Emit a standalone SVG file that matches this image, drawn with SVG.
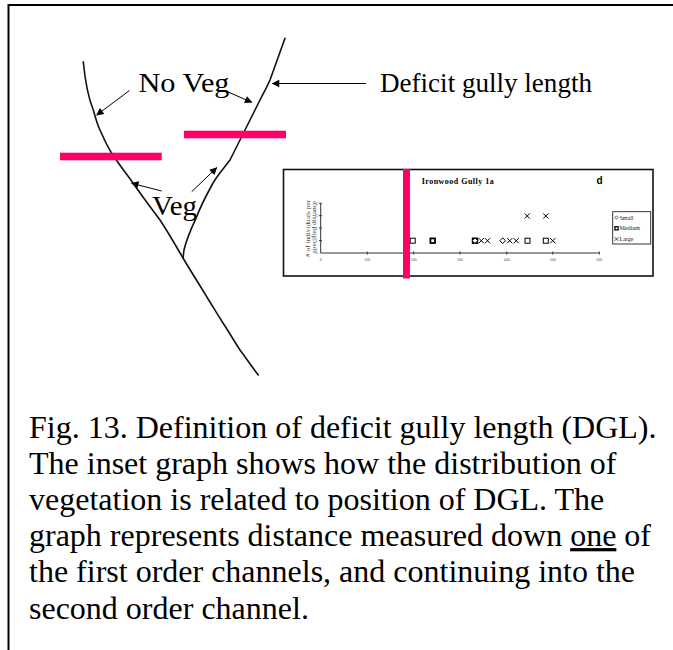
<svg xmlns="http://www.w3.org/2000/svg" width="673" height="650" viewBox="0 0 673 650">
  <style>
    .serif { font-family: "Liberation Serif", "Times New Roman", serif; fill: #000; }
    .lbl { font-size: 27px; }
    .cap { font-size: 32px; }
    .chan { fill: none; stroke: #111; stroke-width: 1.6; stroke-linejoin: round; stroke-linecap: round; }
    .arr { fill: none; stroke: #000; stroke-width: 1; }
    .pink { fill: #ff0066; }
    .mk { fill: #fff; stroke: #000; stroke-width: 1; }
    .tick { font-family: "Liberation Serif", serif; font-size: 4px; fill: #555; }
  </style>
  <defs>
    <marker id="ah" viewBox="0 0 10 10" refX="9" refY="5" markerWidth="10" markerHeight="7.5" markerUnits="userSpaceOnUse" orient="auto">
      <path d="M0,0 L10,5 L0,10 Z" fill="#000"/>
    </marker>
    <rect id="sq" x="-2.5" y="-2.5" width="5" height="5" class="mk"/>
    <rect id="sqb" x="-2.3" y="-2.3" width="4.6" height="4.6" fill="#fff" stroke="#000" stroke-width="1.8"/>
    <path id="xm" d="M-2.6,-2.6 L2.6,2.6 M2.6,-2.6 L-2.6,2.6" fill="none" stroke="#000" stroke-width="1"/>
    <path id="dia" d="M0,-2.8 L2.8,0 L0,2.8 L-2.8,0 Z" class="mk"/>
  </defs>
  <rect width="673" height="650" fill="#fff"/>
  <!-- outer frame (right and bottom edges lie outside the canvas) -->
  <rect x="8.5" y="5" width="700" height="700" fill="none" stroke="#000" stroke-width="2"/>

  <g id="gully-channels">
    <path class="chan" d="M83.3,61.7 C85,80 88,97 93.3,110 C96,119 97,124 100,130 C104,139 107,146 111.7,153.3 C118,163 125,172 133,183 C142,196 151,208 160,220 C168,232 176,246 183,258 C190,270 199,284 206.7,296.7 C212,305 217,314 223,323 C229,332 234,341 240,350 C246,358 252,367 258.3,375"/>
    <path class="chan" d="M285,38.3 C280,52 275,66 270,80 C267,87 263,94 260,100 C255,110 250,120 245,130 C240,140 235,150 230,160 C224,168 218,175 213,183 C207,194 201,205 196.7,216.7 C191,229 186,241 184,250 L183,258"/>
  </g>

  <g id="dgl-bars">
    <rect class="pink" x="60" y="152.7" width="101.7" height="7.6"/>
    <rect class="pink" x="184" y="130.7" width="102" height="7.6"/>
  </g>

  <g id="label-no-veg">
    <text class="serif lbl" x="138.5" y="92" textLength="91" lengthAdjust="spacingAndGlyphs">No Veg</text>
  </g>
  <g id="label-veg">
    <text class="serif lbl" x="152" y="215" textLength="45" lengthAdjust="spacingAndGlyphs">Veg</text>
  </g>
  <g id="label-dgl">
    <text class="serif lbl" x="380" y="92.3" textLength="212" lengthAdjust="spacingAndGlyphs">Deficit gully length</text>
  </g>

  <g id="connectors">
    <line class="arr" x1="366" y1="83.5" x2="272.5" y2="83.5" marker-end="url(#ah)"/>
    <line class="arr" x1="129.5" y1="90.5" x2="96.7" y2="115" marker-end="url(#ah)"/>
    <line class="arr" x1="227" y1="91.5" x2="251.7" y2="102.3" marker-end="url(#ah)"/>
    <line class="arr" x1="161.7" y1="191" x2="131.7" y2="183.3" marker-end="url(#ah)"/>
    <line class="arr" x1="191.7" y1="191.7" x2="216.7" y2="167.7" marker-end="url(#ah)"/>
  </g>

  <g id="inset-graph">
    <rect x="283.5" y="169.5" width="369.5" height="106.5" fill="#fff" stroke="#111" stroke-width="1.6"/>
    <text x="421.7" y="184" font-family="Liberation Serif, Times New Roman, serif" font-weight="bold" font-size="8" textLength="72" lengthAdjust="spacing">Ironwood Gully 1a</text>
    <text x="596.5" y="183.5" font-family="Liberation Sans, Arial, sans-serif" font-weight="bold" font-size="10">d</text>
    <!-- axes -->
    <line x1="320.7" y1="253" x2="599.5" y2="253" stroke="#333" stroke-width="1.2"/>
    <line x1="320.7" y1="203.3" x2="320.7" y2="253" stroke="#333" stroke-width="1"/>
    <g stroke="#333" stroke-width="1">
      <line x1="367.3" y1="251.5" x2="367.3" y2="254.5"/>
      <line x1="413.7" y1="251.5" x2="413.7" y2="254.5"/>
      <line x1="460" y1="251.5" x2="460" y2="254.5"/>
      <line x1="506.7" y1="251.5" x2="506.7" y2="254.5"/>
      <line x1="552.7" y1="251.5" x2="552.7" y2="254.5"/>
      <line x1="599.3" y1="251.5" x2="599.3" y2="254.5"/>
      <line x1="319" y1="203.3" x2="322" y2="203.3"/>
      <line x1="319" y1="215.7" x2="322" y2="215.7"/>
      <line x1="319" y1="228.1" x2="322" y2="228.1"/>
      <line x1="319" y1="240.6" x2="322" y2="240.6"/>
    </g>
    <g class="tick" text-anchor="middle">
      <text x="320.7" y="261">0</text>
      <text x="367.3" y="261">100</text>
      <text x="413.7" y="261">200</text>
      <text x="460" y="261">300</text>
      <text x="506.7" y="261">400</text>
      <text x="552.7" y="261">500</text>
      <text x="599.3" y="261">600</text>
    </g>
    <g class="tick" text-anchor="end">
      <text x="317.5" y="204.7">4</text>
      <text x="317.5" y="217.1">3</text>
      <text x="317.5" y="229.5">2</text>
      <text x="317.5" y="242">1</text>
      <text x="317.5" y="254.4">0</text>
    </g>
    <g font-family="Liberation Serif, Times New Roman, serif" font-size="5.5" fill="#444">
      <text transform="translate(309.8,257) rotate(-90)" textLength="57" lengthAdjust="spacingAndGlyphs"># of individuals per</text>
      <text transform="translate(315.8,253) rotate(-90)" textLength="52" lengthAdjust="spacingAndGlyphs">specified distance</text>
    </g>
    <!-- data points -->
    <use href="#sq" x="412.7" y="240.7"/>
    <use href="#sqb" x="432.7" y="240.7"/>
    <use href="#sqb" x="475" y="240.7"/>
    <use href="#xm" x="475" y="240.7"/>
    <use href="#dia" x="475" y="240.7"/>
    <use href="#xm" x="481.3" y="240.7"/>
    <use href="#xm" x="487.5" y="240.7"/>
    <use href="#dia" x="502.7" y="240.7"/>
    <use href="#xm" x="509.7" y="240.7"/>
    <use href="#xm" x="516.2" y="240.7"/>
    <use href="#sq" x="527.5" y="240.7"/>
    <use href="#sq" x="545.8" y="240.7"/>
    <use href="#xm" x="552.7" y="240.7"/>
    <use href="#xm" x="527.2" y="216"/>
    <use href="#xm" x="545.8" y="216"/>
    <!-- legend -->
    <rect x="612.7" y="211.7" width="38" height="32.3" fill="#fff" stroke="#222" stroke-width="0.9"/>
    <use href="#dia" x="0" y="0" transform="translate(616.5,217.5) scale(0.6)" stroke-width="2"/>
    <use href="#sqb" x="0" y="0" transform="translate(616.5,228.3) scale(0.7)"/>
    <use href="#xm" x="0" y="0" transform="translate(616.5,239) scale(0.7)" stroke-width="1.6"/>
    <g font-family="Liberation Serif, Times New Roman, serif" font-size="6" fill="#222">
      <text x="619.5" y="219.5">Small</text>
      <text x="619.5" y="230.3">Medium</text>
      <text x="619.5" y="241">Large</text>
    </g>
    <!-- DGL position marker -->
    <rect class="pink" x="403" y="169" width="7" height="109.5"/>
  </g>

  <g id="caption">
    <text class="serif cap" x="29" y="437.5">Fig. 13. Definition of deficit gully length (DGL).</text>
    <text class="serif cap" x="29" y="473.7">The inset graph shows how the distribution of</text>
    <text class="serif cap" x="29" y="509.9">vegetation is related to position of DGL. The</text>
    <text class="serif cap" x="29" y="546.1">graph represents distance measured down <tspan text-decoration="underline">one</tspan> of</text>
    <text class="serif cap" x="29" y="582.3">the first order channels, and continuing into the</text>
    <text class="serif cap" x="29" y="618.5">second order channel.</text>
  </g>
</svg>
